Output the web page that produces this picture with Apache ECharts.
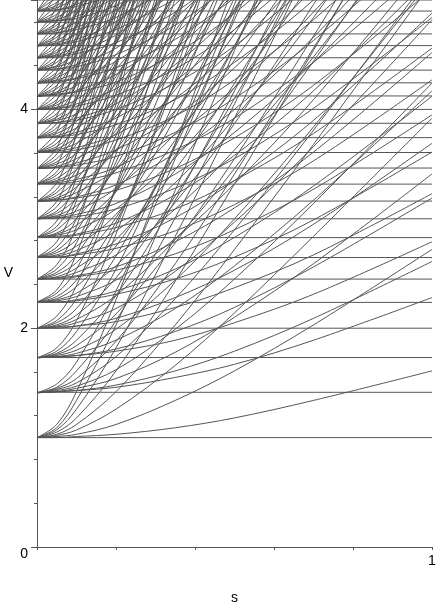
<!DOCTYPE html>
<html><head><meta charset="utf-8">
<script src="https://cdn.jsdelivr.net/npm/echarts@6/dist/echarts.min.js"></script>
<style>html,body{margin:0;padding:0;background:#fff;overflow:hidden}#c{width:436px;height:603px}</style>
</head><body><div id="c"></div>
<script>
// sample positions along s shared by every curve
const S = [0, 0.05, 0.1, 0.2, 0.35, 0.5, 0.7, 1];
// flat levels V
const levels = [1, 1.414, 1.732, 2, 2.236, 2.449, 2.646, 2.828, 3, 3.162, 3.317, 3.464, 3.606, 3.742, 3.873, 4, 4.123, 4.243, 4.359, 4.472, 4.583, 4.690, 4.796, 4.899, 5];
// rising curves fanning out of each level (V at the S positions)
const fan1 = [[1,1.00,1.01,1.03,1.09,1.18,1.34,1.61],[1,1.01,1.03,1.12,1.34,1.61,2.03,2.72],[1,1.02,1.07,1.26,1.66,2.14,2.84,3.92],[1,1.03,1.12,1.42,2.03,2.72,3.68,5.16],[1,1.05,1.18,1.61,2.43,3.32,4.54,6.40],[1,1.07,1.26,1.82,2.84,3.92,5.40],[1,1.09,1.34,2.03,3.26,4.54,6.28],[1,1.12,1.42,2.26,3.68,5.16]];
const fan2 = [[1.41,1.42,1.43,1.46,1.55,1.67,1.89,2.28],[1.41,1.42,1.43,1.48,1.61,1.79,2.09,2.61],[1.41,1.42,1.45,1.54,1.78,2.10,2.59,3.41],[1.41,1.43,1.47,1.62,1.99,2.45,3.14,4.24],[1.41,1.44,1.50,1.74,2.27,2.90,3.81,5.25],[1.41,1.45,1.54,1.88,2.59,3.41,4.56,6.36],[1.41,1.46,1.61,2.07,3.01,4.05,5.50],[1.41,1.49,1.69,2.34,3.55,4.86,6.66]];
const fan3 = [[1.73,1.74,1.75,1.79,1.89,2.05,2.31,2.79],[1.73,1.74,1.75,1.81,1.97,2.19,2.56,3.19],[1.73,1.74,1.77,1.89,2.18,2.57,3.17,4.17],[1.73,1.75,1.80,1.99,2.44,3.00,3.84,5.20],[1.73,1.76,1.84,2.13,2.78,3.55,4.67,6.43],[1.73,1.77,1.89,2.30,3.17,4.17,5.59],[1.73,1.79,1.97,2.54,3.69,4.96,6.73],[1.73,1.82,2.07,2.86,4.34,5.95]];
const fan4 = [[2,2.00,2.02,2.06,2.19,2.37,2.67,3.23],[2,2.01,2.02,2.09,2.28,2.53,2.95,3.69],[2,2.01,2.05,2.18,2.52,2.97,3.66,4.82],[2,2.02,2.08,2.30,2.81,3.46,4.44,6.00],[2,2.03,2.12,2.46,3.21,4.10,5.39],[2,2.05,2.18,2.66,3.66,4.82,6.45],[2,2.07,2.27,2.93,4.26,5.73],[2,2.11,2.39,3.30,5.02]];
const fan5 = [[2.24,2.24,2.25,2.31,2.45,2.65,2.99,3.61],[2.24,2.24,2.26,2.34,2.54,2.83,3.30,4.12],[2.24,2.25,2.29,2.44,2.82,3.32,4.09,5.39],[2.24,2.26,2.32,2.57,3.15,3.87,4.96,6.71],[2.24,2.27,2.38,2.75,3.58,4.58,6.03],[2.24,2.29,2.44,2.97,4.09,5.39],[2.24,2.32,2.54,3.28,4.76,6.40],[2.24,2.35,2.68,3.69,5.61]];
const fan6 = [[2.45,2.45,2.47,2.53,2.68,2.90,3.27,3.95],[2.45,2.46,2.48,2.56,2.79,3.10,3.61,4.52],[2.45,2.46,2.51,2.67,3.09,3.63,4.48,5.90],[2.45,2.47,2.55,2.81,3.45,4.24,5.43],[2.45,2.49,2.60,3.01,3.93,5.02],[2.45,2.51,2.67,3.26,4.48,5.90],[2.45,2.54,2.78,3.59,5.21],[2.45,2.58,2.93,4.05,6.14]];
const fan7 = [[2.65,2.65,2.67,2.73,2.89,3.13,3.53,4.27],[2.65,2.65,2.68,2.77,3.01,3.35,3.90,4.88],[2.65,2.66,2.71,2.89,3.33,3.92,4.84,6.37],[2.65,2.67,2.75,3.04,3.72,4.58,5.87],[2.65,2.69,2.81,3.25,4.24,5.42],[2.65,2.71,2.89,3.52,4.84,6.37],[2.65,2.74,3.00,3.88,5.63],[2.65,2.79,3.17,4.37,6.64]];
const fan8 = [[2.83,2.83,2.85,2.92,3.09,3.35,3.78,4.56],[2.83,2.84,2.86,2.96,3.22,3.58,4.17,5.22],[2.83,2.85,2.90,3.09,3.56,4.20,5.18],[2.83,2.86,2.94,3.25,3.98,4.90,6.27],[2.83,2.87,3.00,3.48,4.53,5.80],[2.83,2.90,3.09,3.76,5.18],[2.83,2.93,3.21,4.15,6.02],[2.83,2.98,3.38,4.67,7.09]];
const fan9 = [[3,3.01,3.02,3.09,3.28,3.55,4.01,4.84],[3,3.01,3.04,3.14,3.41,3.79,4.43,5.53],[3,3.02,3.07,3.28,3.78,4.45,5.49],[3,3.03,3.12,3.45,4.22,5.20],[3,3.05,3.19,3.69,4.81,6.15],[3,3.07,3.28,3.99,5.49],[3,3.11,3.40,4.40,6.38],[3,3.16,3.59,4.96,7.53]];
const fan10 = [[3.16,3.17,3.19,3.26,3.46,3.74,4.22,5.10],[3.16,3.17,3.20,3.31,3.60,4.00,4.66,5.83],[3.16,3.18,3.24,3.45,3.99,4.69,5.79],[3.16,3.19,3.29,3.63,4.45,5.48],[3.16,3.21,3.36,3.89,5.07],[3.16,3.24,3.45,4.20,5.79],[3.16,3.27,3.59,4.64,6.73],[3.16,3.33,3.78,5.22]];
const fan11 = [[3.32,3.32,3.34,3.42,3.63,3.92,4.43,5.35],[3.32,3.33,3.36,3.47,3.77,4.20,4.89,6.12],[3.32,3.34,3.40,3.62,4.18,4.92,6.07],[3.32,3.35,3.45,3.81,4.67,5.74],[3.32,3.37,3.52,4.08,5.31],[3.32,3.40,3.62,4.41,6.07],[3.32,3.43,3.76,4.87,7.06],[3.32,3.49,3.97,5.48]];
const fan12 = [[3.46,3.47,3.49,3.57,3.79,4.10,4.63,5.59],[3.46,3.47,3.51,3.63,3.94,4.38,5.11],[3.46,3.48,3.55,3.78,4.37,5.14],[3.46,3.50,3.60,3.98,4.87,6.00],[3.46,3.52,3.68,4.26,5.55],[3.46,3.55,3.78,4.61,6.34],[3.46,3.59,3.93,5.08],[3.46,3.65,4.15,5.72]];
const fan13 = [[3.61,3.61,3.63,3.72,3.94,4.27,4.82,5.81],[3.61,3.62,3.65,3.77,4.10,4.56,5.32],[3.61,3.63,3.69,3.94,4.54,5.35],[3.61,3.64,3.75,4.14,5.07],[3.61,3.66,3.83,4.43,5.78],[3.61,3.69,3.94,4.79,6.60],[3.61,3.73,4.09,5.29],[3.61,3.80,4.31,5.96]];
const fan14 = [[3.74,3.75,3.77,3.86,4.09,4.43,5.00,6.03],[3.74,3.75,3.79,3.92,4.26,4.73,5.52],[3.74,3.76,3.83,4.09,4.72,5.55],[3.74,3.78,3.89,4.30,5.26],[3.74,3.80,3.97,4.60,6.00],[3.74,3.83,4.09,4.98,6.85],[3.74,3.87,4.25,5.49],[3.74,3.94,4.48,6.18]];
const fan15 = [[3.87,3.88,3.90,4.00,4.24,4.58,5.17],[3.87,3.88,3.92,4.05,4.41,4.90,5.71],[3.87,3.90,3.96,4.23,4.88,5.74],[3.87,3.91,4.02,4.45,5.45],[3.87,3.93,4.11,4.76,6.21],[3.87,3.96,4.23,5.15],[3.87,4.01,4.40,5.68],[3.87,4.08,4.63,6.40]];
const fan16 = [[4,4.01,4.03,4.13,4.37,4.73,5.34],[4,4.01,4.05,4.19,4.55,5.06],[4,4.02,4.09,4.37,5.04],[4,4.04,4.16,4.60,5.63],[4,4.06,4.25,4.92,6.41],[4,4.09,4.37,5.32],[4,4.14,4.54,5.87],[4,4.21,4.79,6.61]];
const fan17 = [[4.12,4.13,4.16,4.25,4.51,4.88,5.51],[4.12,4.14,4.17,4.32,4.69,5.22],[4.12,4.15,4.22,4.50,5.20],[4.12,4.16,4.28,4.74,5.80],[4.12,4.19,4.38,5.07],[4.12,4.22,4.50,5.48],[4.12,4.27,4.68,6.05],[4.12,4.34,4.93,6.81]];
const fan18 = [[4.24,4.25,4.28,4.38,4.64,5.02],[4.24,4.26,4.29,4.44,4.83,5.37],[4.24,4.27,4.34,4.63,5.35],[4.24,4.29,4.41,4.87,5.97],[4.24,4.31,4.51,5.22],[4.24,4.34,4.63,5.64],[4.24,4.39,4.81,6.22],[4.24,4.47,5.08]];
const fan19 = [[4.36,4.37,4.39,4.50,4.77,5.16],[4.36,4.37,4.41,4.56,4.96,5.51],[4.36,4.39,4.46,4.76,5.49],[4.36,4.40,4.53,5.01],[4.36,4.43,4.63,5.36],[4.36,4.46,4.76,5.80],[4.36,4.51,4.95,6.39],[4.36,4.59,5.22]];
const fan20 = [[4.47,4.48,4.51,4.61,4.89,5.29],[4.47,4.49,4.53,4.68,5.09],[4.47,4.50,4.58,4.88,5.64],[4.47,4.52,4.65,5.14],[4.47,4.54,4.75,5.50],[4.47,4.58,4.88,5.95],[4.47,4.63,5.08],[4.47,4.71,5.35]];
const fan21 = [[4.58,4.59,4.62,4.73,5.01],[4.58,4.60,4.64,4.80,5.21],[4.58,4.61,4.69,5.00,5.60],[4.58,4.63,4.76,5.27],[4.58,4.66,4.87,5.63],[4.58,4.69,5.00,6.10],[4.58,4.74,5.20],[4.58,4.82,5.48]];
const fan22 = [[4.69,4.70,4.73,4.84,5.13],[4.69,4.70,4.75,4.91,5.34],[4.69,4.72,4.80,5.12],[4.69,4.74,4.87,5.39],[4.69,4.77,4.98,5.77],[4.69,4.80,5.12],[4.69,4.86,5.32],[4.69,4.94,5.61]];
const fan23 = [[4.80,4.81,4.83,4.95,5.24],[4.80,4.81,4.85,5.02],[4.80,4.82,4.91,5.24],[4.80,4.84,4.98,5.51],[4.80,4.87,5.09],[4.80,4.91,5.24],[4.80,4.97,5.44],[4.80,5.05]];
const fan24 = [[4.90,4.91,4.94,5.05],[4.90,4.91,4.96,5.13],[4.90,4.93,5.02],[4.90,4.95,5.09],[4.90,4.98,5.20],[4.90,5.02],[4.90,5.07],[4.90,5.16]];
const fans = [fan1,fan2,fan3,fan4,fan5,fan6,fan7,fan8,fan9,fan10,fan11,fan12,fan13,fan14,fan15,fan16,fan17,fan18,fan19,fan20,fan21,fan22,fan23,fan24];
const yTickLabels = ['0','2','4'];
const xTickLabels = ['1'];

const LINE = '#555555';
const FONT = 'Liberation Sans, Arial, sans-serif';
const series = [];
levels.forEach(L => {
  series.push({type:'line', data:[[0,L],[1,L]], symbol:'none', silent:true,
    lineStyle:{color:LINE, width:1}});
});
fans.forEach(f => f.forEach(c => {
  series.push({type:'line', data:c.map((v,i)=>[S[i], v]), symbol:'none', silent:true,
    smooth:0.35, clip:true, lineStyle:{color:LINE, width:1}});
}));

const chart = echarts.init(document.getElementById('c'), null, {renderer:'canvas'});
chart.setOption({
  animation:false,
  backgroundColor:'#fff',
  grid:{left:37, right:4, top:0, bottom:56, containLabel:false, outerBoundsMode:'none'},
  xAxis:[{type:'value', min:0, max:1, interval:0.2,
    name:'s', nameLocation:'middle', nameGap:44,
    nameTextStyle:{color:'#000', fontSize:14, fontFamily:FONT},
    axisLine:{show:true, lineStyle:{color:'#555', width:1}},
    axisTick:{show:true, inside:false, length:3, lineStyle:{color:'#555'}},
    axisLabel:{margin:7, color:'#000', fontSize:14, fontFamily:FONT,
      formatter:v => (Math.abs(v-1)<1e-9 ? xTickLabels[0] : '')},
    splitLine:{show:false}}],
  yAxis:[{type:'value', min:0, max:5, interval:0.4,
    name:'V', nameLocation:'middle', nameGap:24, nameRotate:0,
    nameTextStyle:{color:'#000', fontSize:14, fontFamily:FONT},
    axisLine:{show:true, lineStyle:{color:'#555', width:1}},
    axisTick:{show:true, inside:false, length:3, lineStyle:{color:'#555'}},
    axisLabel:{margin:9, color:'#000', fontSize:14, fontFamily:FONT,
      formatter:v => { const r=Math.round(v*10)/10; if(r===0) return '{z|'+yTickLabels[0]+'}'; if(r===2) return yTickLabels[1]; if(r===4) return yTickLabels[2]; return ''; },
      rich:{z:{fontSize:14, color:'#000', fontFamily:FONT, padding:[14,0,0,0]}}},
    splitLine:{show:false}},
   {type:'value', min:0, max:5, interval:2, position:'left', offset:0,
    axisLine:{show:false}, axisLabel:{show:false}, splitLine:{show:false},
    axisTick:{show:true, inside:false, length:6, lineStyle:{color:'#555'}}}],
  series: series
});
</script></body></html>
